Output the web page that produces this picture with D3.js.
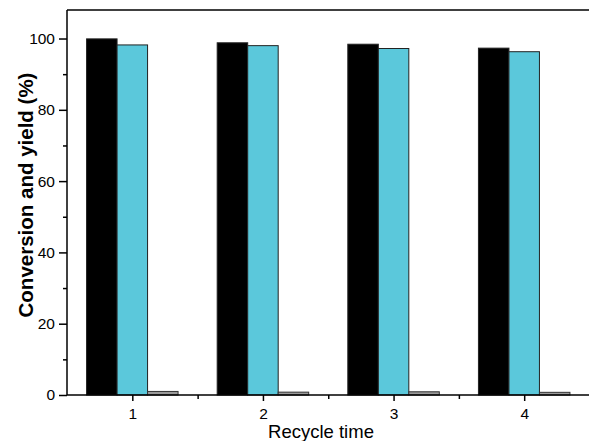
<!DOCTYPE html>
<html><head><meta charset="utf-8">
<script src="https://cdn.jsdelivr.net/npm/d3@7"></script>
<style>body{margin:0;background:#fff}svg{display:block}</style>
</head><body>
<svg id="c" width="589" height="441"></svg>
<script>
const categories = [1, 2, 3, 4];
const seriesNames = ["Conversion", "Yield", "Byproduct"];
const conversion = [99.9, 98.8, 98.4, 97.3];
const yieldVals = [98.2, 98.0, 97.2, 96.3];
const byproduct = [1.0, 0.8, 0.9, 0.75];
const yTicks = [0, 20, 40, 60, 80, 100];
const colors = ["#000000", "#5bc8db", "#9a9a9a"];

const svg = d3.select("#c");
const m = {l: 67, r: 0, t: 10, b: 46};
const W = 589, H = 441;
const x = d3.scaleLinear().domain([0.5, 4.5]).range([m.l, 589.5]);
const y = d3.scaleLinear().domain([0, 108]).range([H - m.b, m.t]);
const series = [conversion, yieldVals, byproduct];
const bw = 30.5;

const g = svg.append("g");
series.forEach((vals, si) => {
  g.selectAll(null).data(categories).enter().append("rect")
    .attr("x", (d, i) => x(d) - 1.5 * bw + si * bw)
    .attr("y", (d, i) => y(vals[i]))
    .attr("width", bw)
    .attr("height", (d, i) => y(0) - y(vals[i]))
    .attr("fill", colors[si])
    .attr("stroke", si === 2 ? "#333" : "#222")
    .attr("stroke-width", 1);
});

svg.append("line").attr("x1", m.l).attr("x2", W).attr("y1", m.t).attr("y2", m.t)
  .attr("stroke", "#000").attr("stroke-width", 1.5);

const font = "'Liberation Sans', Arial, sans-serif";
const ya = svg.append("g").attr("transform", `translate(${m.l},0)`)
  .call(d3.axisLeft(y).tickValues(yTicks).tickSize(8).tickPadding(4).tickFormat(d3.format("d")));
ya.append("g").call(d3.axisLeft(y).tickValues([10, 30, 50, 70, 90]).tickSize(4).tickFormat(""))
  .select(".domain").remove();
const xa = svg.append("g").attr("transform", `translate(0,${y(0)})`)
  .call(d3.axisBottom(x).tickValues(categories).tickSize(6).tickPadding(7).tickFormat(d3.format("d")));
xa.append("g").call(d3.axisBottom(x).tickValues([1.5, 2.5, 3.5]).tickSize(4).tickFormat(""))
  .select(".domain").remove();
ya.select(".domain").remove();
xa.select(".domain").remove();
svg.append("line").attr("x1", m.l).attr("x2", m.l).attr("y1", m.t).attr("y2", y(0))
  .attr("stroke", "#000").attr("stroke-width", 1.5);
svg.append("line").attr("x1", m.l).attr("x2", W).attr("y1", y(0)).attr("y2", y(0))
  .attr("stroke", "#000").attr("stroke-width", 1.5);
svg.selectAll(".tick line").attr("stroke-width", 1.5);
svg.selectAll(".tick text").attr("font-family", font).attr("font-size", 15.5).attr("fill", "#000");

svg.append("text").attr("x", 321).attr("y", 438)
  .attr("text-anchor", "middle").attr("font-family", font).attr("font-size", 18.5)
  .text("Recycle time");
svg.append("text").attr("transform", `translate(33,195) rotate(-90)`)
  .attr("text-anchor", "middle").attr("font-family", font).attr("font-size", 20.5)
  .attr("font-weight", "bold").text("Conversion and yield (%)");
</script>
</body></html>
